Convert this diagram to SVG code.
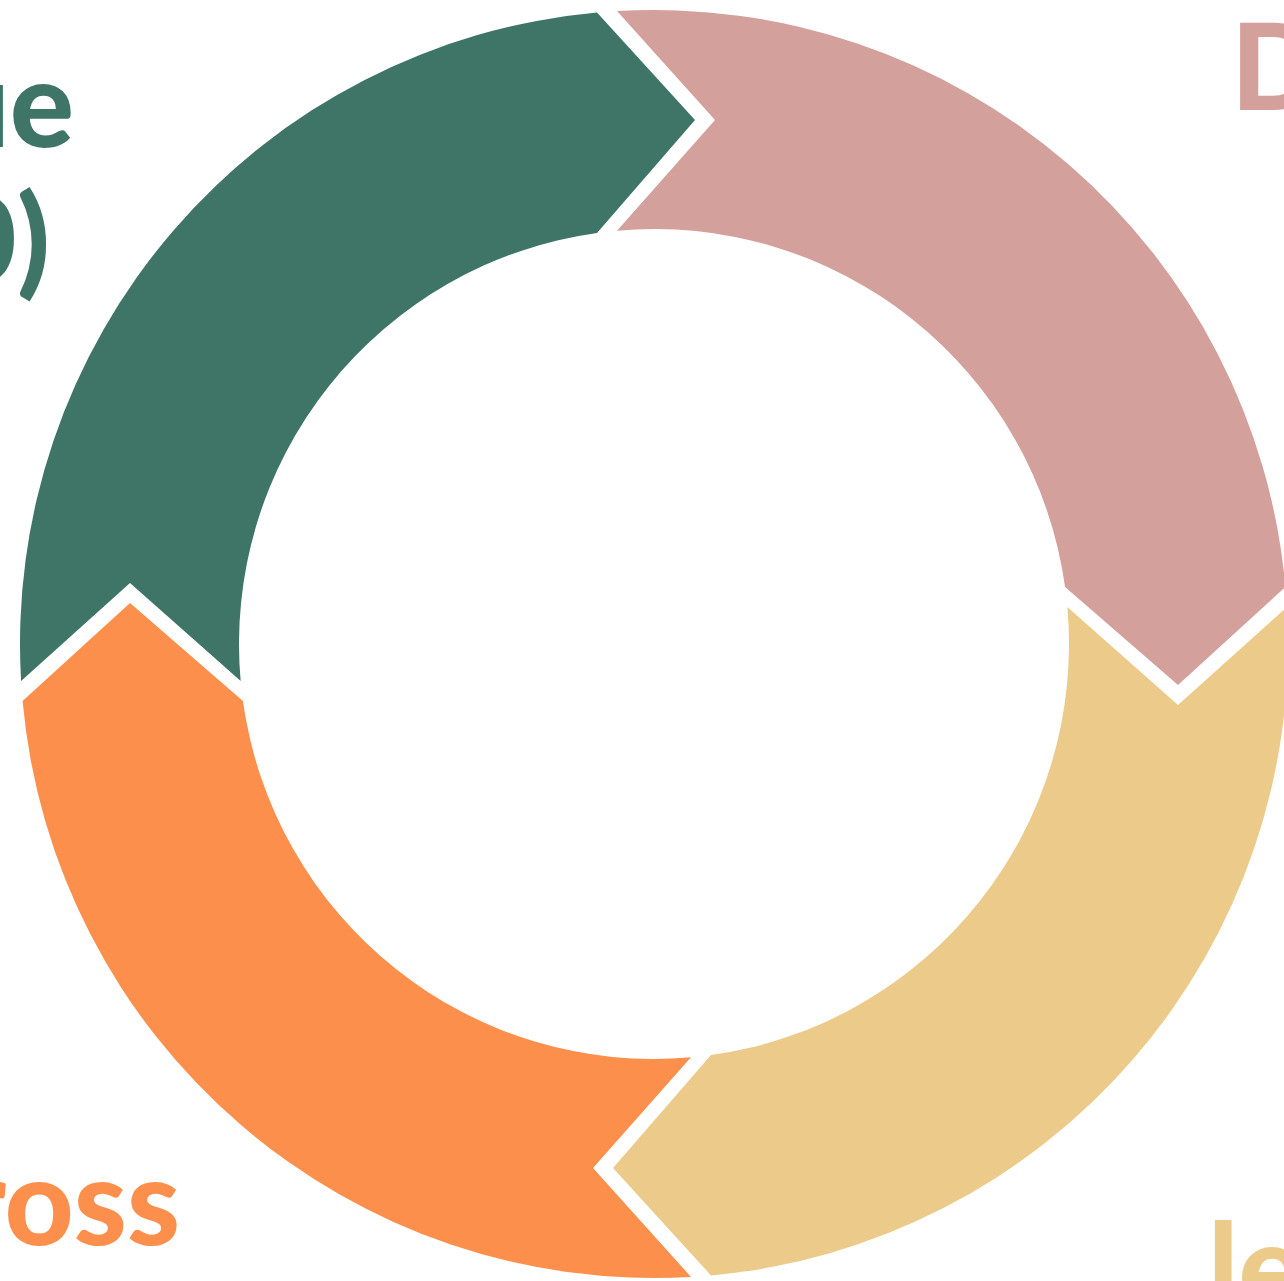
<svg xmlns="http://www.w3.org/2000/svg" width="1284" height="1281" viewBox="0 0 1284 1281">
  <style>
    .lbl { font-family: Lato, "Liberation Sans", sans-serif; font-weight: 900; font-size: 120px; }
    .g { fill: #3E7567; }
    .p { fill: #D3A09B; }
    .o { fill: #FD8F4C; }
    .y { fill: #ECCA8A; }
  </style>
  <defs>
    <path id="seg" d="M -37,-632.92 A 634 634 0 0 1 631.43,-57 L 524,41 L 411.07,-57 A 415 415 0 0 0 -37,-413.35 L 61,-524 Z"/>
  </defs>
  <rect width="1284" height="1281" fill="#ffffff"/>
  <g transform="translate(654,644)">
    <g id="node-pink"><use href="#seg" fill="#D3A09B"/></g>
    <g id="node-yellow"><use href="#seg" fill="#ECCA8A" transform="rotate(90)"/></g>
    <g id="node-orange"><use href="#seg" fill="#FD8F4C" transform="rotate(180)"/></g>
    <g id="node-green"><use href="#seg" fill="#3E7567" transform="rotate(270)"/></g>
  </g>
  <g id="connectors"></g>
  <g id="labels">
    <text class="lbl g" x="74" y="147" text-anchor="end">ue</text>
    <text class="lbl g" x="50" y="282" text-anchor="end">0)</text>
    <text class="lbl p" x="1231" y="110">D</text>
    <text class="lbl o" x="180" y="1245" text-anchor="end">ross</text>
    <text class="lbl y" x="1208" y="1310">le</text>
  </g>
</svg>
